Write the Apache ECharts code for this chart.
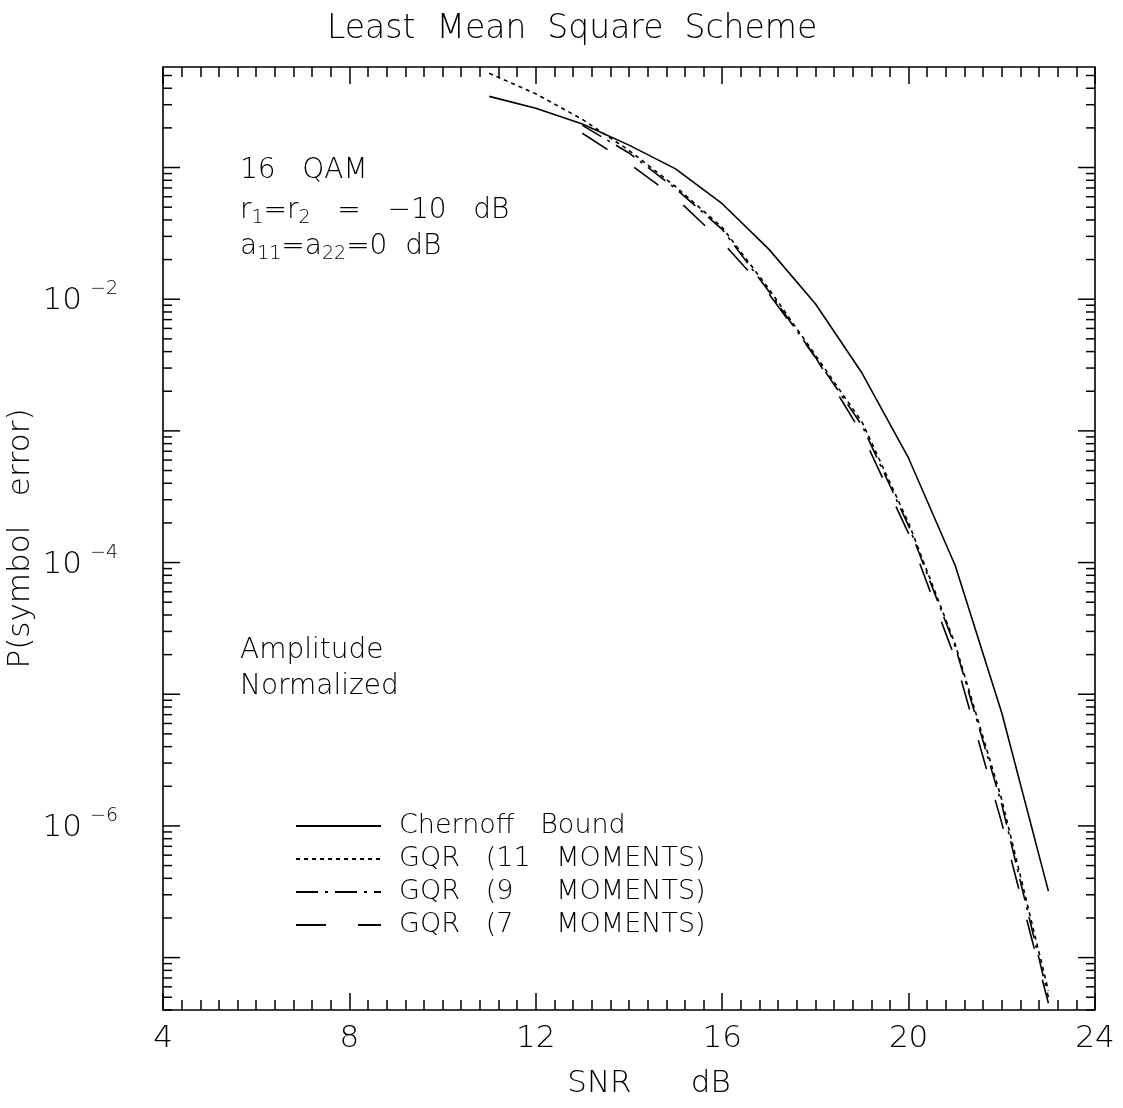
<!DOCTYPE html>
<html>
<head>
<meta charset="utf-8">
<script src="https://cdn.jsdelivr.net/npm/echarts@6/dist/echarts.min.js"></script>
<style>
html,body{margin:0;padding:0;background:#fff;}
#c{width:1123px;height:1108px;}
</style>
</head>
<body>
<div id="c"></div>
<script>
// ---- data ----
const snrChernoff = [11, 12, 13, 14, 15, 16, 17, 18, 19, 20, 21, 22, 23];
const chernoff    = [0.347, 0.282, 0.214, 0.148, 0.0977, 0.0531, 0.024, 0.00923, 0.00275, 6.2e-4, 9.5e-5, 7.2e-6, 3.2e-7];

const snrGqr11 = [11, 12, 13, 14, 15, 16, 17, 18, 19, 20, 21, 22, 23];
const gqr11    = [0.519, 0.363, 0.232, 0.135, 0.0716, 0.0351, 0.0120, 0.00376, 0.00117, 2.0e-4, 2.4e-5, 1.58e-6, 5.6e-8];

const snrGqr9 = [13, 14, 15, 16, 17, 18, 19, 20, 21, 22, 23];
const gqr9    = [0.209, 0.129, 0.0692, 0.0339, 0.0115, 0.00363, 0.0011, 1.9e-4, 2.3e-5, 1.45e-6, 5.0e-8];

const snrGqr7 = [13, 14, 15, 16, 17, 18, 19, 20, 21, 22, 23];
const gqr7    = [0.182, 0.107, 0.0589, 0.0272, 0.011, 0.00363, 9.5e-4, 1.66e-4, 1.86e-5, 1.05e-6, 4.5e-8];

const seriesNames = ['Chernoff   Bound', 'GQR   (11   MOMENTS)', 'GQR   (9     MOMENTS)', 'GQR   (7     MOMENTS)'];

const xMin = 4, xMax = 24, xInterval = 4;
const yMin = 4e-8, yMax = 0.58;
const yLabelExponents = [-2, -4, -6];
const yDecadeExponents = [-8, -7, -6, -5, -4, -3, -2, -1, 0];
const yTickMultipliers = [1, 2, 3, 4, 5, 6, 7, 8, 9];

// ---- helpers ----
function zip(xs, ys) { return xs.map((x, i) => [x, ys[i]]); }

const yTickData = [];
yDecadeExponents.forEach(function (e) {
  yTickMultipliers.forEach(function (m) {
    const v = m * Math.pow(10, e);
    if (v >= yMin && v <= yMax) yTickData.push([xMin, v, m === 1 ? 1 : 0]);
  });
});
const yLabelData = yLabelExponents.map(e => [xMin, Math.pow(10, e)]);

const FONT = '"DejaVu Sans", "Liberation Sans", sans-serif';
const FW = 200;
const INK = '#000';

const chart = echarts.init(document.getElementById('c'), null, {renderer: 'canvas'});

const xAxisCommon = {
  type: 'value', min: xMin, max: xMax, interval: xInterval, gridIndex: 0,
  axisLine: {show: false},
  axisTick: {show: true, inside: true, length: 17, lineStyle: {color: INK, width: 1.5}},
  minorTick: {show: true, splitNumber: 10, length: 10, lineStyle: {color: INK, width: 1.5}},
  splitLine: {show: false}, minorSplitLine: {show: false}
};

const annRich = {
  n: {fontFamily: FONT, fontWeight: FW, fontSize: 28, color: INK},
  s: {fontFamily: FONT, fontWeight: FW, fontSize: 19, color: INK, padding: [14, 0, 0, 0]}
};

const option = {
  animation: false,
  backgroundColor: '#fff',
  title: {
    text: 'Least  Mean  Square  Scheme',
    left: 322, top: 8,
    textStyle: {fontFamily: FONT, fontWeight: FW, fontSize: 33, color: INK}
  },
  grid: {
    left: 163, right: 28, top: 67, bottom: 98,
    outerBoundsMode: 'none', containLabel: false,
    show: true, borderColor: INK, borderWidth: 1.6, backgroundColor: 'transparent'
  },
  legend: {
    data: seriesNames,
    orient: 'vertical',
    left: 290, top: 806,
    itemWidth: 85, itemHeight: 30, itemGap: 3,
    selectedMode: false,
    itemStyle: {color: 'rgba(0,0,0,0)', borderWidth: 0, opacity: 0},
    textStyle: {fontFamily: FONT, fontWeight: FW, fontSize: 27, color: INK, lineHeight: 30, padding: [0, 0, 0, 13]}
  },
  xAxis: [
    Object.assign({}, xAxisCommon, {
      position: 'bottom',
      axisLabel: {show: true, margin: 13, fontFamily: FONT, fontWeight: FW, fontSize: 31, color: INK},
      name: 'SNR      dB', nameLocation: 'middle', nameGap: 58,
      nameTextStyle: {fontFamily: FONT, fontWeight: FW, fontSize: 31, color: INK, padding: [0, 0, 0, 40]}
    }),
    Object.assign({}, xAxisCommon, {
      position: 'top',
      axisLabel: {show: false}
    })
  ],
  yAxis: {
    type: 'log', logBase: 10, min: yMin, max: yMax,
    axisLine: {show: false}, axisTick: {show: false}, axisLabel: {show: false},
    splitLine: {show: false},
    name: 'P(symbol   error)', nameLocation: 'middle', nameGap: 127,
    nameTextStyle: {fontFamily: FONT, fontWeight: FW, fontSize: 31, color: INK}
  },
  graphic: [
    {type: 'text', x: 240, y: 171, style: {text: '16   QAM', fontFamily: FONT, fontWeight: FW, fontSize: 28, fill: INK, verticalAlign: 'middle'}},
    {type: 'text', x: 240, y: 211, style: {text: '{n|r}{s|1}{n|=r}{s|2}{n|   =   \u221210   dB}', rich: annRich, verticalAlign: 'middle'}},
    {type: 'text', x: 240, y: 247, style: {text: '{n|a}{s|11}{n|=a}{s|22}{n|=0  dB}', rich: annRich, verticalAlign: 'middle'}},
    {type: 'text', x: 240, y: 651, style: {text: 'Amplitude', fontFamily: FONT, fontWeight: FW, fontSize: 28, fill: INK, verticalAlign: 'middle'}},
    {type: 'text', x: 240, y: 687, style: {text: 'Normalized', fontFamily: FONT, fontWeight: FW, fontSize: 28, fill: INK, verticalAlign: 'middle'}}
  ],
  series: [
    {
      name: seriesNames[0], type: 'line', data: zip(snrChernoff, chernoff),
      symbol: 'none', showSymbol: false, clip: true, z: 5,
      lineStyle: {color: INK, width: 1.6, type: 'solid'}, itemStyle: {color: INK}
    },
    {
      name: seriesNames[1], type: 'line', data: zip(snrGqr11, gqr11),
      symbol: 'none', showSymbol: false, clip: true, z: 5,
      lineStyle: {color: INK, width: 1.6, type: [4, 4]}, itemStyle: {color: INK}
    },
    {
      name: seriesNames[2], type: 'line', data: zip(snrGqr9, gqr9),
      symbol: 'none', showSymbol: false, clip: true, z: 5,
      lineStyle: {color: INK, width: 1.6, type: [22, 7, 3, 7]}, itemStyle: {color: INK}
    },
    {
      name: seriesNames[3], type: 'line', data: zip(snrGqr7, gqr7),
      symbol: 'none', showSymbol: false, clip: true, z: 5,
      lineStyle: {color: INK, width: 1.6, type: [30, 32]}, itemStyle: {color: INK}
    },
    {
      name: 'yTicks', type: 'custom', coordinateSystem: 'cartesian2d', silent: true, clip: false,
      data: yTickData, encode: {x: 0, y: 1},
      renderItem: function (params, api) {
        const v = api.value(1);
        const major = api.value(2) === 1;
        const pl = api.coord([xMin, v]);
        const pr = api.coord([xMax, v]);
        const len = major ? 17 : 9;
        const st = {stroke: INK, lineWidth: 1.5};
        return {type: 'group', children: [
          {type: 'line', shape: {x1: pl[0], y1: pl[1], x2: pl[0] + len, y2: pl[1]}, style: st},
          {type: 'line', shape: {x1: pr[0], y1: pr[1], x2: pr[0] - len, y2: pr[1]}, style: st}
        ]};
      }
    },
    {
      name: 'yLabels', type: 'custom', coordinateSystem: 'cartesian2d', silent: true, clip: false,
      data: yLabelData, encode: {x: 0, y: 1},
      renderItem: function (params, api) {
        const p = api.coord([xMin, api.value(1)]);
        const ex = yLabelExponents[params.dataIndex];
        return {type: 'group', children: [
          {type: 'text', x: p[0] - 81, y: p[1] + 2,
           style: {text: '10', fontFamily: FONT, fontWeight: FW, fontSize: 31, fill: INK, align: 'right', verticalAlign: 'middle'}},
          {type: 'text', x: p[0] - 73, y: p[1] - 10,
           style: {text: '\u2212' + Math.abs(ex), fontFamily: FONT, fontWeight: FW, fontSize: 19, fill: INK, align: 'left', verticalAlign: 'middle'}}
        ]};
      }
    }
  ]
};

chart.setOption(option);
</script>
</body>
</html>
